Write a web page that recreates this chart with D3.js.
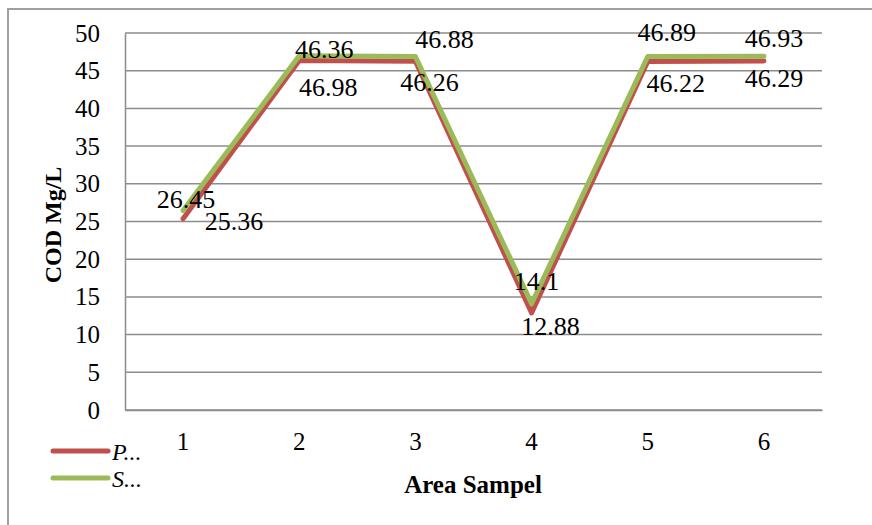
<!DOCTYPE html>
<html>
<head>
<meta charset="utf-8">
<script src="https://cdn.jsdelivr.net/npm/d3@7"></script>
<style>
  body { margin: 0; background: #fff; }
</style>
</head>
<body>
<div id="chart"></div>
<script>
/* DATA */
const areas = ["1", "2", "3", "4", "5", "6"];
const seriesP = [25.36, 46.36, 46.26, 12.88, 46.22, 46.29];
const seriesS = [26.45, 46.98, 46.88, 14.1, 46.89, 46.93];
const yTicks = [0, 5, 10, 15, 20, 25, 30, 35, 40, 45, 50];
const legendNames = ["P...", "S..."];

/* label offsets (px) from each point, as placed in the original */
const offP = [[51, 2], [25, -12], [14, 21], [19, 13], [28, 21], [10, 17]];
const offS = [[3, -12], [29, 31], [29, -18], [5, -23], [19, -25], [10, -18]];

/* CONSTANTS */
const width = 872, height = 525;
const margin = { left: 125, right: 50, top: 33, bottom: 115 };
const serif = "'Liberation Serif', 'Times New Roman', serif";

const svg = d3.select("#chart").append("svg")
  .attr("width", width)
  .attr("height", height)
  .style("font-family", serif);

// outer frame
svg.append("rect")
  .attr("x", 8).attr("y", 9)
  .attr("width", 900).attr("height", 600)
  .attr("fill", "none")
  .attr("stroke", "#a0a0a0")
  .attr("stroke-width", 2);

/* SCALES */
const xScale = d3.scaleBand()
  .domain(areas)
  .range([margin.left, width - margin.right]);

const yScale = d3.scaleLinear()
  .domain([0, 50])
  .range([height - margin.bottom, margin.top]);

// gridlines
svg.append("g")
  .selectAll("line")
  .data(yTicks)
  .join("line")
  .attr("x1", margin.left)
  .attr("x2", width - margin.right)
  .attr("y1", d => yScale(d))
  .attr("y2", d => yScale(d))
  .attr("stroke", "#8c8c8c")
  .attr("stroke-width", 1.5);

// y axis
const yAxis = d3.axisLeft(yScale).tickValues(yTicks).tickSize(0).tickPadding(25);
svg.append("g")
  .attr("transform", `translate(${margin.left},0)`)
  .call(yAxis)
  .attr("font-family", null)
  .call(g => g.select(".domain").attr("stroke", "#8c8c8c").attr("stroke-width", 1.5))
  .selectAll("text")
  .style("font-family", serif)
  .attr("font-size", "25px")
  .attr("fill", "#000");

// x axis
const xAxis = d3.axisBottom(xScale).tickSize(0).tickPadding(22);
svg.append("g")
  .attr("transform", `translate(0,${yScale(0)})`)
  .call(xAxis)
  .attr("font-family", null)
  .call(g => g.select(".domain").attr("stroke", "#8c8c8c").attr("stroke-width", 1.5))
  .selectAll("text")
  .style("font-family", serif)
  .attr("font-size", "25px")
  .attr("fill", "#000");

// axis titles
svg.append("text")
  .attr("transform", `translate(61,225) rotate(-90)`)
  .attr("text-anchor", "middle")
  .style("font-family", serif)
  .attr("font-size", "24px")
  .attr("font-weight", "bold")
  .text("COD Mg/L");

svg.append("text")
  .attr("x", 473).attr("y", 493)
  .attr("text-anchor", "middle")
  .style("font-family", serif)
  .attr("font-size", "25px")
  .attr("font-weight", "bold")
  .text("Area Sampel");

/* LINES */
const series = [
  { name: legendNames[0], values: seriesP, color: "#c0504d", off: offP },
  { name: legendNames[1], values: seriesS, color: "#9bbb59", off: offS }
];

const line = d3.line()
  .x((d, i) => xScale(areas[i]) + xScale.bandwidth() / 2)
  .y(d => yScale(d));

svg.selectAll(".series")
  .data(series)
  .join("path")
  .attr("class", "series")
  .attr("d", d => line(d.values))
  .attr("fill", "none")
  .attr("stroke", d => d.color)
  .attr("stroke-width", 5)
  .attr("stroke-linejoin", "round")
  .attr("stroke-linecap", "round");

// data labels
series.forEach(s => {
  svg.append("g")
    .selectAll("text")
    .data(s.values)
    .join("text")
    .attr("x", (d, i) => xScale(areas[i]) + xScale.bandwidth() / 2 + s.off[i][0])
    .attr("y", (d, i) => yScale(d) + s.off[i][1])
    .attr("dy", "0.35em")
    .attr("text-anchor", "middle")
    .style("font-family", serif)
    .attr("font-size", "26px")
    .text(d => d);
});

/* LEGEND */
const legend = svg.append("g")
  .selectAll("g")
  .data(series)
  .join("g")
  .attr("transform", (d, i) => `translate(53,${451 + i * 27})`);

legend.append("line")
  .attr("x1", 0).attr("x2", 55)
  .attr("stroke", d => d.color)
  .attr("stroke-width", 5)
  .attr("stroke-linecap", "round");

legend.append("text")
  .attr("x", 59).attr("y", 9)
  .style("font-family", serif)
  .attr("font-size", "24px")
  .attr("font-style", "italic")
  .text(d => d.name);
</script>
</body>
</html>
